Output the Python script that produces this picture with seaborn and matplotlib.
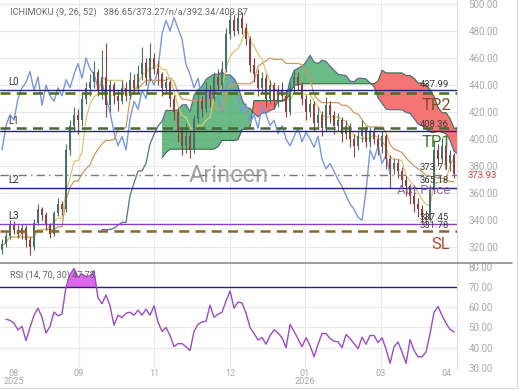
import numpy as np
import pandas as pd
import matplotlib
matplotlib.use("Agg")
import matplotlib.pyplot as plt
import seaborn as sns
from matplotlib.lines import Line2D

# ---------------- data ----------------
first_open = 318
closes = [322, 328, 336, 333, 330, 334, 325, 320, 338, 348,
          344, 336, 330, 345, 352, 348, 392, 410, 418, 414,
          430, 438, 442, 450, 436, 446, 425, 440, 432, 428,
          438, 432, 444, 438, 448, 456, 445, 460, 452, 448,
          438, 442, 430, 420, 405, 395, 402, 392, 415, 428,
          422, 436, 430, 446, 440, 452, 478, 488, 480, 490,
          482, 474, 455, 448, 438, 445, 430, 440, 428, 436,
          432, 420, 438, 446, 440, 430, 420, 426, 412, 418,
          408, 425, 418, 410, 414, 404, 410, 400, 395, 402,
          408, 398, 405, 400, 394, 402, 385, 378, 382, 376,
          370, 365, 358, 352, 348, 342, 340, 362, 392, 385,
          395, 382, 388, 373.93]
highs = [326, 332, 340, 339, 336, 337, 336, 328, 341, 352,
         350, 346, 338, 347, 356, 354, 396, 414, 424, 422,
         434, 442, 448, 458, 452, 466, 471, 444, 442, 436,
         444, 442, 450, 448, 455, 468, 460, 471, 464, 458,
         450, 447, 444, 433, 423, 409, 412, 406, 418, 434,
         432, 442, 440, 450, 452, 458, 482, 494, 492, 496,
         494, 486, 476, 460, 452, 450, 448, 444, 442, 440,
         442, 436, 442, 452, 450, 442, 433, 430, 428, 424,
         421, 431, 428, 421, 419, 416, 414, 412, 404, 406,
         414, 410, 409, 408, 404, 406, 404, 388, 386, 385,
         379, 373, 367, 361, 356, 351, 347, 366, 399, 396,
         401, 398, 392, 390]
lows = [315, 320, 326, 330, 327, 326, 320, 314, 318, 336,
        340, 333, 327, 328, 343, 344, 346, 388, 406, 404,
        410, 426, 432, 438, 432, 430, 416, 420, 426, 421,
        426, 428, 430, 434, 434, 444, 440, 443, 448, 440,
        432, 434, 424, 414, 398, 388, 390, 386, 390, 412,
        416, 420, 424, 428, 436, 438, 450, 474, 476, 478,
        478, 470, 450, 442, 432, 434, 424, 426, 422, 424,
        428, 416, 418, 434, 436, 425, 414, 416, 406, 408,
        402, 405, 412, 404, 406, 398, 400, 394, 387, 392,
        398, 394, 394, 396, 388, 390, 378, 364, 374, 371,
        364, 358, 352, 346, 342, 338, 336, 339, 360, 380,
        382, 378, 376, 371]
rsi_vals = [np.nan, 54, 53.5, 52, 48.8, 50.5, 43.5, 50, 56, 59.5,
            55, 47.2, 50.5, 57.6, 55.7, 56.6, 70, 76, 79, 74.7,
            76.3, 75, 75.5, 77.9, 64.5, 61.7, 66, 60.6, 51.1, 56,
            54.8, 57, 57.5, 56, 58.5, 56, 59, 56, 60.6, 52.7,
            48, 50, 46, 40.6, 42, 42, 40.5, 38.6, 48, 51.5,
            52.7, 53, 61, 55, 56.5, 57.5, 63, 68, 59.5, 62.5,
            62, 57, 50, 47, 43.8, 45, 41.7, 46, 48.8, 47.2,
            44.9, 40, 51.5, 48, 44.3, 40.5, 45, 41, 35.5, 41.7,
            47, 47, 44.5, 43.2, 42.9, 40, 46.5, 44.5, 42, 39.5,
            45.2, 41.7, 46, 46, 42.5, 44.9, 39.3, 32.3, 40.5, 42.8,
            37.8, 32.3, 44, 38.6, 35.5, 35.5, 38, 47, 57.5, 60.3,
            55.8, 52, 49, 47.73]

month_labels = ["08\n2025", "09", "11", "12", "01\n2026", "03", "04"]
month_pos = [3, 19.25, 38, 57, 75.75, 94.75, 111]
price_ticks = [320, 340, 360, 380, 400, 420, 440, 460, 480, 500]
rsi_ticks = [30, 40, 50, 60, 70, 80]

navy_levels = [436.3, 405.9, 364.0]
green_dashed_levels = [434.0, 408.1]
act_level = 373.3
support_level = 336.8
sl_level = 331.9
level_names = ["L0", "L1", "L2", "L3"]
level_name_y = [442.0, 413.3, 369.6, 343.0]
value_texts = ["437.99", "408.36", "373.71", "365.18", "337.45", "331.78"]
value_text_y = [440.5, 411.1, 378.8, 369.6, 341.8, 335.8]
last_price = 373.93
rsi_last = 47.73

# ---------------- indicators ----------------
N = len(closes)
df = pd.DataFrame({"close": closes, "high": highs, "low": lows})
df["open"] = [first_open] + closes[:-1]
idx = np.arange(N)
disp = 16
tenkan = (df.high.rolling(5, min_periods=1).max() + df.low.rolling(5, min_periods=1).min()) / 2
kijun = (df.high.rolling(16, min_periods=1).max() + df.low.rolling(16, min_periods=1).min()) / 2
kijun_full = (df.high.rolling(16, min_periods=10).max() + df.low.rolling(16, min_periods=10).min()) / 2
ext = np.arange(N + disp)
spanA = ((tenkan + kijun_full) / 2).reindex(ext).shift(disp)
spanB = ((df.high.rolling(31, min_periods=25).max() + df.low.rolling(31, min_periods=25).min()) / 2).reindex(ext).shift(disp)
chikou = df.close.shift(-disp)

# ---------------- figure ----------------
sns.set_theme(style="white")
plt.rcParams["font.family"] = ["Roboto", "DejaVu Sans"]

fig = plt.figure(figsize=(5.2, 3.9), dpi=100)
ax = fig.add_axes([0, 0.328, 0.879, 0.672])
ax2 = fig.add_axes([0, 0.0564, 0.879, 0.269])

tick_col = "#a8a8a8"
grid_col = "#e9e9e9"
xl = (-0.5, 113.75)

for a in (ax, ax2):
    a.set_xlim(*xl)
    for s in ["top", "left", "bottom"]:
        a.spines[s].set_visible(False)
    a.spines["right"].set_color("#dcdcdc")
    a.spines["right"].set_linewidth(0.8)
    for p in month_pos[1:-1]:
        a.axvline(p, color=grid_col, lw=0.8, zorder=0)

ax.set_ylim(308.9, 503)
ax.set_yticks(price_ticks)
for t in price_ticks:
    ax.axhline(t, color=grid_col, lw=0.8, zorder=0)
ax.yaxis.tick_right()
ax.tick_params(axis="y", length=0, pad=8, labelsize=7, labelcolor=tick_col)
ax.set_yticklabels([f"{t:.2f}" for t in price_ticks])
ax.set_xticks([])

# cloud
a_vals = spanA.values
b_vals = spanB.values
ax.fill_between(ext, a_vals, b_vals, where=a_vals >= b_vals, interpolate=True,
                color="#4fae70", alpha=0.85, lw=0, zorder=1)
ax.fill_between(ext, a_vals, b_vals, where=a_vals < b_vals, interpolate=True,
                color="#f45c5c", alpha=0.85, lw=0, zorder=1)
ax.plot(ext, a_vals, color="#5a6e8c", lw=0.9, zorder=2)
ax.plot(ext, b_vals, color="#3a6a44", lw=0.8, zorder=2)

# lines
sns.lineplot(x=idx, y=chikou.values, ax=ax, color="#7b96e0", lw=1.0, zorder=3)
sns.lineplot(x=idx, y=kijun.values, ax=ax, color="#cf9a5c", lw=0.9, zorder=3)
sns.lineplot(x=idx, y=tenkan.values, ax=ax, color="#dcc86e", lw=0.9, zorder=3)

# candles
up = df.close >= df.open
cols = np.where(up, "#4a706a", "#8e4242")
ax.vlines(idx, df.low, df.high, colors=cols, lw=0.8, zorder=4)
body_lo = np.minimum(df.open, df.close)
body_h = np.maximum(np.abs(df.close - df.open), 0.8)
ax.bar(idx, body_h, bottom=body_lo, width=0.6, color=cols, lw=0, zorder=5)

# level lines
for v in navy_levels:
    ax.axhline(v, color="#23237a", lw=1.0, zorder=6)
for v in green_dashed_levels:
    ax.axhline(v, color="#4a6a2c", lw=1.8, ls=(0, (4, 2.5)), zorder=6)
ax.axhline(act_level, color="#7a7a7a", lw=1.0, ls=(0, (6, 3, 1, 3)), zorder=6)
ax.axhline(support_level, color="#8a3fc0", lw=1.0, zorder=6)
ax.axhline(sl_level, color="#8a6234", lw=1.8, ls=(0, (4, 2.5)), zorder=6)

ytr = ax.get_yaxis_transform()
for name, y in zip(level_names, level_name_y):
    ax.text(0.018, y, name, transform=ytr, fontsize=7, color="#333333", va="center", zorder=7)
for txt, y in zip(value_texts, value_text_y):
    ax.text(0.95, y, txt, transform=ytr, fontsize=6.8, color="#3a3a3a", ha="center", va="center", zorder=7)

ax.text(0.955, 425.2, "TP2", transform=ytr, fontsize=12, color="#7d5229", ha="center", va="center", zorder=7)
ax.text(0.955, 397.8, "TP1", transform=ytr, fontsize=12, color="#3c7a2c", ha="center", va="center", zorder=7)
ax.text(0.927, 362.0, "Act Price", transform=ytr, fontsize=9.5, color="#8a5ab8", ha="center", va="center", zorder=7, alpha=0.9)
ax.text(0.965, 322.2, "SL", transform=ytr, fontsize=12, color="#b04a30", ha="center", va="center", zorder=7)
ax.text(0.5, 373.3, "Arincen", transform=ytr, fontsize=17, color="#8a8a8a", ha="center", va="center", zorder=7, alpha=0.8)
ax.text(1.022, last_price - 1.2, f"{last_price:.2f}", transform=ytr, fontsize=6.8, color="#c84040", ha="left", va="center", zorder=7, clip_on=False)
ax.text(0.022, 0.954, "ICHIMOKU (9, 26, 52)   386.65/373.27/n/a/392.34/409.37",
        transform=ax.transAxes, fontsize=6.7, color="#6a6a6a", va="center", zorder=7)

# RSI panel
ax2.set_ylim(30, 81.7)
ax2.set_yticks(rsi_ticks)
for t in [40, 50, 60]:
    ax2.axhline(t, color=grid_col, lw=0.8, zorder=0)
ax2.yaxis.tick_right()
ax2.tick_params(axis="y", length=0, pad=8, labelsize=7, labelcolor=tick_col)
ax2.set_yticklabels([f"{t:.2f}" for t in rsi_ticks])
rsi = np.array(rsi_vals, dtype=float)
ax2.fill_between(idx, rsi, 70, where=rsi > 70, interpolate=True, color="#e066ee", lw=0, zorder=1)
sns.lineplot(x=idx, y=rsi, ax=ax2, color="#9a4cc4", lw=1.0, zorder=3)
ax2.axhline(70, color="#23237a", lw=1.0, zorder=2)
ax2.text(0.022, 0.884, f"RSI (14, 70, 30) {rsi_last:.2f}", transform=ax2.transAxes,
         fontsize=6.5, color="#606060", va="center", zorder=4)
ax2.set_xticks(month_pos)
ax2.set_xticklabels(month_labels)
ax2.tick_params(axis="x", length=0, pad=0.5, labelsize=6.6, labelcolor=tick_col)
for lab in ax2.get_xticklabels():
    lab.set_linespacing(0.95)
ax.set_ylabel("")
ax2.set_ylabel("")

# separator and outer border
fig.add_artist(Line2D([0, 0.985], [0.3263, 0.3263], color="#8c8c8c", lw=1.2))
fig.add_artist(Line2D([0.995, 0.995], [0.005, 1.0], color="#d8d8d8", lw=0.8))
fig.add_artist(Line2D([0, 0.995], [0.005, 0.005], color="#d8d8d8", lw=0.8))

fig.savefig("out.png", dpi=100)
